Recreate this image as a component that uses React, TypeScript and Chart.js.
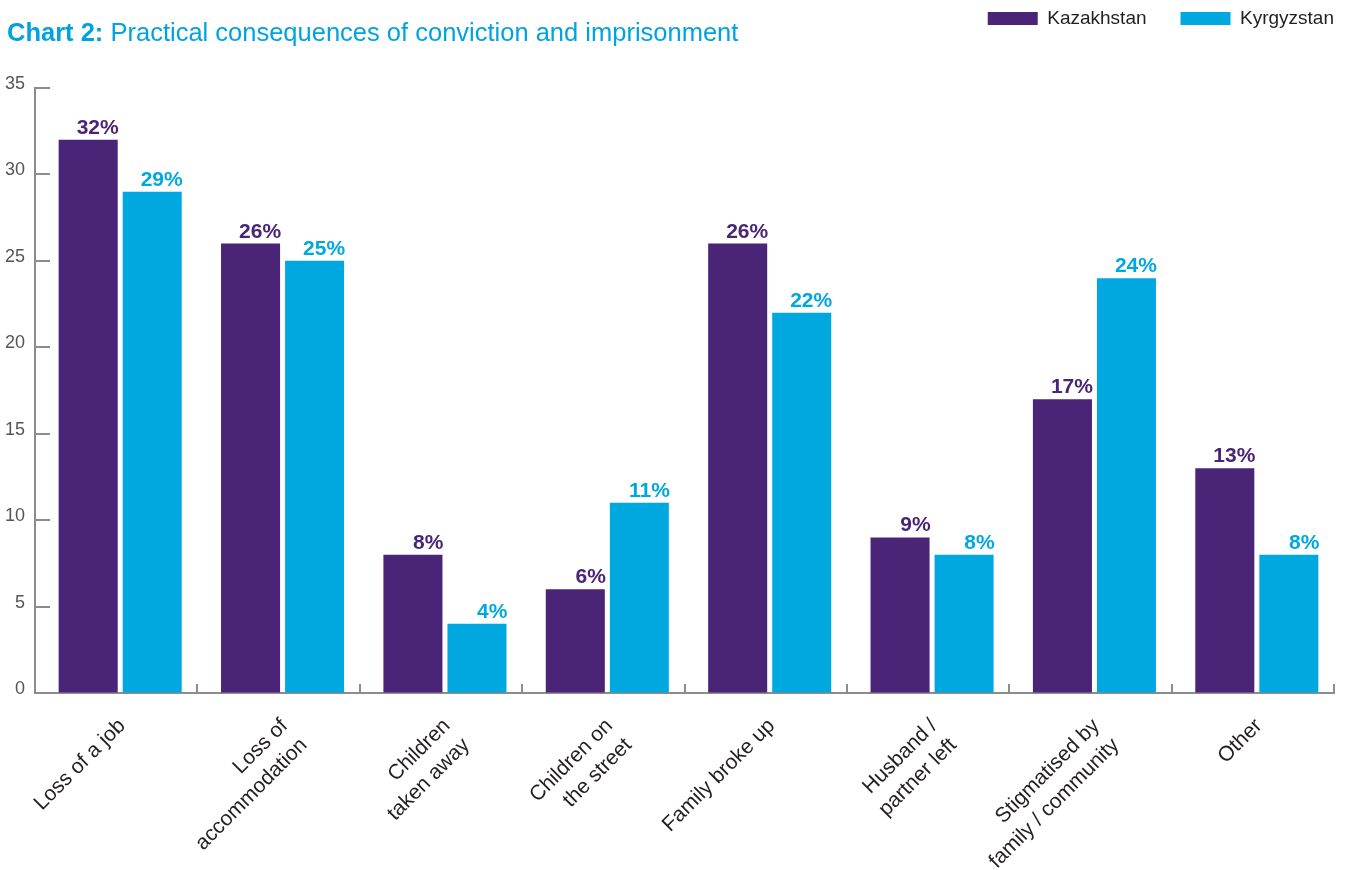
import React, { useEffect, useRef } from "react";
import { Chart, registerables } from "chart.js";

Chart.register(...registerables);

const FONT = "'Liberation Sans', Arial, Helvetica, sans-serif";

const categories: string[][] = [
  ["Loss of a job"],
  ["Loss of", "accommodation"],
  ["Children", "taken away"],
  ["Children on", "the street"],
  ["Family broke up"],
  ["Husband /", "partner left"],
  ["Stigmatised by", "family / community"],
  ["Other"],
];
const seriesNames = ["Kazakhstan", "Kyrgyzstan"];
const kazakhstan = [32, 26, 8, 6, 26, 9, 17, 13];
const kyrgyzstan = [29, 25, 4, 11, 22, 8, 24, 8];
const yMin = 0;
const yMax = 35;
const yStep = 5;
const titleBold = "Chart 2:";
const titleText = "Practical consequences of conviction and imprisonment";

const PURPLE = "#4a2577";
const CYAN = "#00a8e0";
const TITLE_COLOR = "#00a3e0";
const AXIS = "#8c8c8c";
const TEXT = "#231f20";
const YTEXT = "#555555";

const legendSpacer = {
  id: "legendSpacer",
  beforeInit(chart: any) {
    const legend = chart.legend;
    if (!legend) return;
    const orig = legend.fit;
    legend.fit = function () {
      orig.call(this);
      this.height += 50;
    };
  },
};

const innerTicks = {
  id: "innerTicks",
  afterDraw(chart: any) {
    const { ctx, chartArea, scales } = chart;
    const x = scales.x;
    const y = scales.y;
    ctx.save();
    ctx.strokeStyle = AXIS;
    ctx.lineWidth = 2;
    ctx.beginPath();
    y.ticks.forEach((t: any) => {
      const py = Math.round(y.getPixelForValue(t.value));
      ctx.moveTo(chartArea.left, py);
      ctx.lineTo(chartArea.left + 15, py);
    });
    for (let i = 1; i <= categories.length; i++) {
      const px = Math.round(x.getPixelForValue(i - 0.5));
      ctx.moveTo(px, chartArea.bottom);
      ctx.lineTo(px, chartArea.bottom - 9);
    }
    ctx.stroke();
    ctx.restore();
  },
};

const valueLabels = {
  id: "valueLabels",
  afterDatasetsDraw(chart: any) {
    const ctx = chart.ctx;
    chart.data.datasets.forEach((ds: any, di: number) => {
      const meta = chart.getDatasetMeta(di);
      meta.data.forEach((bar: any, i: number) => {
        const p = bar.getProps(["x", "y", "width"], true);
        ctx.save();
        ctx.font = `bold 21px ${FONT}`;
        ctx.fillStyle = ds.backgroundColor;
        ctx.textAlign = "right";
        ctx.textBaseline = "alphabetic";
        ctx.fillText(`${ds.data[i]}%`, p.x + p.width / 2 + 1, p.y - 6);
        ctx.restore();
      });
    });
  },
};

export default function App() {
  const ref = useRef<HTMLCanvasElement | null>(null);

  useEffect(() => {
    document.body.style.margin = "0";
    document.body.style.overflow = "hidden";
    if (!ref.current) return;
    Chart.defaults.font.family = FONT;
    const chart = new Chart(ref.current, {
      type: "bar",
      data: {
        labels: categories,
        datasets: [
          {
            label: seriesNames[0],
            data: kazakhstan,
            backgroundColor: PURPLE,
            borderWidth: 0,
            // bar group sits slightly right of the category centre, as in the source
            categoryPercentage: 0.69,
            barPercentage: 1.054,
          },
          {
            label: seriesNames[1],
            data: kyrgyzstan,
            backgroundColor: CYAN,
            borderWidth: 0,
            categoryPercentage: 0.8875,
            barPercentage: 0.819,
          },
        ],
      },
      options: {
        responsive: false,
        animation: false,
        layout: { padding: { top: -25, right: -14, left: 0, bottom: 0 } },
        plugins: {
          tooltip: { enabled: false },
          title: { display: false },
          legend: {
            display: true,
            position: "top",
            align: "end",
            labels: {
              boxWidth: 50,
              boxHeight: 13,
              padding: 34,
              color: TEXT,
              font: { size: 19, family: FONT },
            },
          },
        },
        scales: {
          x: {
            offset: true,
            grid: { display: true, drawOnChartArea: false, drawTicks: false },
            border: { display: true, color: AXIS, width: 2 },
            ticks: {
              autoSkip: false,
              maxRotation: 45,
              minRotation: 45,
              padding: 20,
              labelOffset: 6,
              color: TEXT,
              font: { size: 21, family: FONT, lineHeight: 1.3 },
            },
            afterFit(scale: any) {
              scale.height = 177;
              scale.paddingLeft = 0;
              scale.paddingRight = 20;
            },
          },
          y: {
            min: yMin,
            max: yMax,
            grid: { display: true, drawOnChartArea: false, drawTicks: false },
            border: { display: true, color: AXIS, width: 2 },
            ticks: {
              stepSize: yStep,
              padding: 10,
              labelOffset: -4,
              color: YTEXT,
              font: { size: 18, family: FONT },
            },
            afterFit(scale: any) {
              scale.width = 35;
            },
          },
        },
      },
      plugins: [legendSpacer, innerTicks, valueLabels],
    });
    return () => chart.destroy();
  }, []);

  return (
    <div style={{ position: "relative", width: 1354, height: 870, background: "#fff" }}>
      <canvas ref={ref} width={1354} height={870} style={{ display: "block" }} />
      <div
        style={{
          position: "absolute",
          left: 7,
          top: 20,
          fontFamily: FONT,
          fontSize: 25.5,
          lineHeight: 1,
          color: TITLE_COLOR,
          whiteSpace: "nowrap",
        }}
      >
        <b>{titleBold}</b> {titleText}
      </div>
    </div>
  );
}
